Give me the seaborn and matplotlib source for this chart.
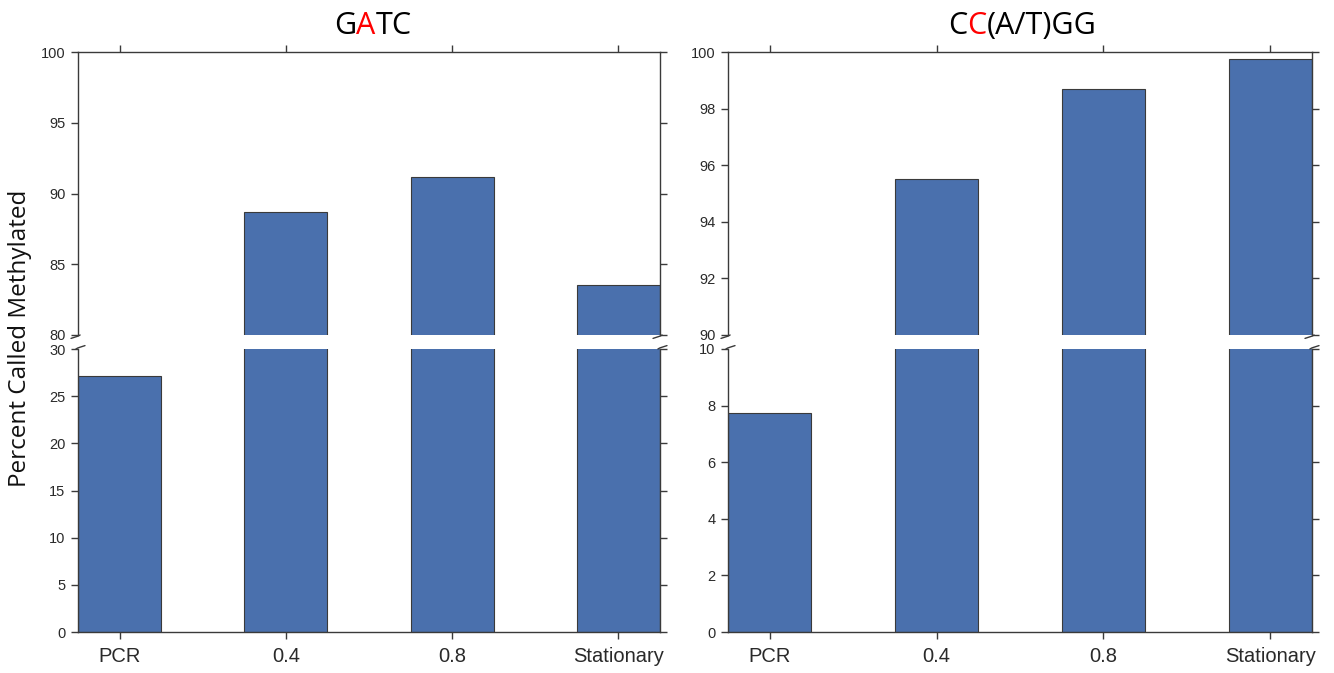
import matplotlib
matplotlib.use("Agg")
import matplotlib.pyplot as plt
import seaborn as sns

# ---- data ----
categories = ["PCR", "0.4", "0.8", "Stationary"]
gatc_values = [27.1, 88.7, 91.2, 83.5]
ccwgg_values = [7.75, 95.5, 98.7, 99.75]

gatc_top_ylim = (80, 100)
gatc_bot_ylim = (0, 30)
gatc_top_ticks = [80, 85, 90, 95, 100]
gatc_bot_ticks = [0, 5, 10, 15, 20, 25, 30]

ccwgg_top_ylim = (90, 100)
ccwgg_bot_ylim = (0, 10)
ccwgg_top_ticks = [90, 92, 94, 96, 98, 100]
ccwgg_bot_ticks = [0, 2, 4, 6, 8, 10]

title_gatc = [("G", "black"), ("A", "red"), ("TC", "black")]
title_ccwgg = [("C", "black"), ("C", "red"), ("(A/T)GG", "black")]
ylabel_text = "Percent Called Methylated"

# ---- style ----
sns.set_theme(style="white")
plt.rcParams["font.family"] = ["Liberation Sans", "DejaVu Sans"]

BAR_COLOR = "#4a70ad"
EDGE = "#3a3a3a"
SPINE = "#3a3a3a"

W, H = 1334, 673
fig = plt.figure(figsize=(W / 100, H / 100), dpi=100)


def fx(px):
    return px / W


def fy(py):
    return 1 - py / H


def make_panel(x0, x1, values, top_ylim, bot_ylim, top_ticks, bot_ticks):
    ax_top = fig.add_axes([fx(x0), fy(335), fx(x1 - x0), fy(52) - fy(335)])
    ax_bot = fig.add_axes([fx(x0), fy(632), fx(x1 - x0), fy(349) - fy(632)])
    for ax, ylim, ticks in ((ax_top, top_ylim, top_ticks), (ax_bot, bot_ylim, bot_ticks)):
        sns.barplot(x=categories, y=values, ax=ax, color=BAR_COLOR, saturation=1,
                    width=0.5, edgecolor=EDGE, linewidth=0.8)
        ax.set_xlim(-0.25, 3.25)
        ax.set_ylim(*ylim)
        ax.set_yticks(ticks)
        ax.set_ylabel("")
        ax.set_xlabel("")
        for s in ax.spines.values():
            s.set_color(SPINE)
            s.set_linewidth(1.0)
        ax.tick_params(axis="both", which="both", direction="out", length=5,
                       width=1.0, color=SPINE, labelcolor="#2a2a2a")
        ax.tick_params(axis="y", left=True, right=True, labelsize=10.5, pad=4)
        ax.patch.set_alpha(0)

    ax_top.spines["bottom"].set_visible(False)
    ax_top.tick_params(axis="x", top=True, bottom=False, labelbottom=False, labeltop=False)
    ax_bot.spines["top"].set_visible(False)
    ax_bot.tick_params(axis="x", top=False, bottom=True, labelbottom=True, labelsize=14.5, pad=6)

    # break marks
    d = 0.012
    kw = dict(color=SPINE, lw=1.0, clip_on=False)
    for xpos in (0, 1):
        ax_top.plot([xpos - d, xpos, xpos + d * 0.3], [-0.012, -0.004, 0.0], transform=ax_top.transAxes, **kw)
        ax_bot.plot([xpos - d * 0.3, xpos, xpos + d], [1.0, 1.004, 1.012], transform=ax_bot.transAxes, **kw)
    return ax_top, ax_bot


make_panel(78, 660, gatc_values, gatc_top_ylim, gatc_bot_ylim, gatc_top_ticks, gatc_bot_ticks)
make_panel(728, 1312, ccwgg_values, ccwgg_top_ylim, ccwgg_bot_ylim, ccwgg_top_ticks, ccwgg_bot_ticks)


def colored_title(xc_px, yc_px, parts, size=22):
    fig.canvas.draw()
    renderer = fig.canvas.get_renderer()
    texts = []
    widths = []
    for s, c in parts:
        t = fig.text(0, fy(yc_px), s, color=c, fontsize=size, family=["Open Sans", "DejaVu Sans"],
                     ha="left", va="center")
        texts.append(t)
        widths.append(t.get_window_extent(renderer).width)
    total = sum(widths)
    x = xc_px - total / 2
    for t, w in zip(texts, widths):
        t.set_x(fx(x))
        x += w


colored_title(373, 26, title_gatc)
colored_title(1022, 26, title_ccwgg)

fig.text(fx(20), fy(338), ylabel_text, rotation=90, ha="center", va="center",
         fontsize=17.5, family=["Open Sans", "DejaVu Sans"], color="#111111")

fig.savefig("out.png", dpi=100)
